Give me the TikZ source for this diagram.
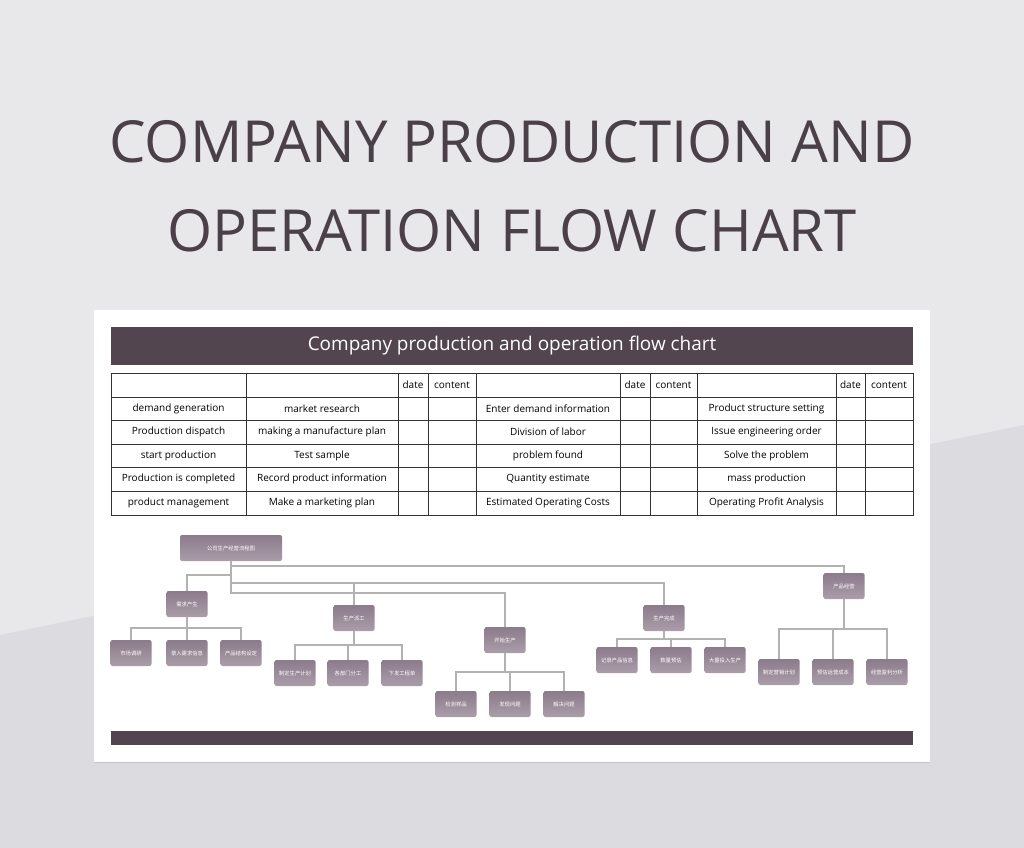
\documentclass[tikz,border=0pt]{standalone}
\usepackage{fontspec}
\setmainfont{Open Sans}
\newfontfamily\cjk{Noto Sans CJK SC}
\usetikzlibrary{positioning,calc,shadows}
\definecolor{bgtop}{HTML}{E8E8EA}
\definecolor{bgbot}{HTML}{DCDBE0}
\definecolor{ink}{HTML}{4A4048}
\definecolor{bar}{HTML}{52454F}
\definecolor{boxtop}{HTML}{8C7B8B}
\definecolor{boxbot}{HTML}{AB9DAA}
\tikzset{
  treebox/.style={rounded corners=1.5pt,top color=boxtop,bottom color=boxbot,
    minimum width=30.75pt,minimum height=19.5pt,inner sep=0pt,
    font=\cjk\fontsize{4}{5}\selectfont,text=white},
  link/.style={draw=black!30,line width=0.8pt},
  cell/.style={font=\fontsize{7.5}{9}\selectfont,text=black}
}
\begin{document}
\begin{tikzpicture}[x=0.75pt,y=-0.75pt]
\useasboundingbox (0,0) rectangle (1024,848);
% background
\fill[bgtop] (0,0) rectangle (1024,848);
\fill[bgbot] (0,635) -- (1024,425) -- (1024,848) -- (0,848) -- cycle;
% title
\node[text=ink,font=\fontsize{43.5}{52}\selectfont] (title1) at (512,142) {COMPANY PRODUCTION AND};
\node[text=ink,font=\fontsize{43.5}{52}\selectfont] (title2) at (512,231) {OPERATION FLOW CHART};
% card
\fill[white,drop shadow={opacity=0.25,shadow xshift=0pt,shadow yshift=-1pt}] (94,310) rectangle (930,762);
\fill[bar] (111,327) rectangle (913,365);
\node[text=white,font=\fontsize{14.2}{16}\selectfont] (head) at (512,346) {Company production and operation flow chart};
\fill[bar] (111,731) rectangle (913,745);
% table
\draw[black!80,line width=0.5pt] (111,373) rectangle (913,515);
\foreach \y in {397,420,444,467,491} \draw[black!80,line width=0.5pt] (111,\y) -- (913,\y);
\foreach \x in {246,398,428,476,620,650,697,836,865} \draw[black!80,line width=0.5pt] (\x,373) -- (\x,515);
\foreach \x/\t in {413/date,452/content,635/date,673.5/content,850.5/date,889/content}
  \node[cell] at (\x,385) {\t};
\foreach \y/\a/\b/\c/\d in {
  408.5/demand generation/market research/Enter demand information/Product structure setting,
  432/Production dispatch/making a manufacture plan/Division of labor/Issue engineering order,
  455.5/start production/Test sample/problem found/Solve the problem,
  479/Production is completed/Record product information/Quantity estimate/mass production,
  503/product management/Make a marketing plan/Estimated Operating Costs/Operating Profit Analysis}{
  \node[cell] at (178.5,\y) {\a};
  \node[cell] at (322,\y) {\b};
  \node[cell] at (548,\y) {\c};
  \node[cell] at (766.5,\y) {\d};
}
% tree
\node[treebox,minimum width=76.5pt] (root) at (231,548) {公司生产经营流程图};
\node[treebox] (demand) at (187,604) {需求产生};
\node[treebox] (dispatch) at (354,618) {生产派工};
\node[treebox] (start) at (505,640) {开始生产};
\node[treebox] (done) at (664,618) {生产完成};
\node[treebox] (manage) at (844,586) {产品经营};
\node[treebox] (d1) at (131,653) {市场调研};
\node[treebox] (d2) at (187,653) {录入需求信息};
\node[treebox] (d3) at (241,653) {产品结构设定};
\node[treebox] (p1) at (295,673) {制定生产计划};
\node[treebox] (p2) at (348,673) {各部门分工};
\node[treebox] (p3) at (402,673) {下发工程单};
\node[treebox] (s1) at (456,704) {检测样品};
\node[treebox] (s2) at (510,704) {发现问题};
\node[treebox] (s3) at (564,704) {解决问题};
\node[treebox] (c1) at (617,660) {记录产品信息};
\node[treebox] (c2) at (671,660) {数量预估};
\node[treebox] (c3) at (725,660) {大量投入生产};
\node[treebox] (m1) at (779,672) {制定营销计划};
\node[treebox] (m2) at (833,672) {预估运营成本};
\node[treebox] (m3) at (887,672) {经营盈利分析};
% connectors
\draw[link] (root.south) -- (root.south |- 0,593) -| (start.north);
\draw[link] (root.south |- 0,566) -| (manage.north);
\draw[link] (root.south |- 0,575) -| (demand.north);
\draw[link] (root.south |- 0,583) -| (done.north);
\draw[link] (root.south |- 0,583) -| (dispatch.north);
\foreach \p/\y/\a/\b/\c in {demand/628/d1/d2/d3,dispatch/645/p1/p2/p3,start/672/s1/s2/s3,done/639/c1/c2/c3,manage/629/m1/m2/m3}{
  \draw[link] (\p.south) -- (\p.south |- 0,\y);
  \draw[link] (\a.north) |- (\c.north |- 0,\y) -- (\c.north);
  \draw[link] (\b.north) -- (\b.north |- 0,\y);
}
\end{tikzpicture}
\end{document}
